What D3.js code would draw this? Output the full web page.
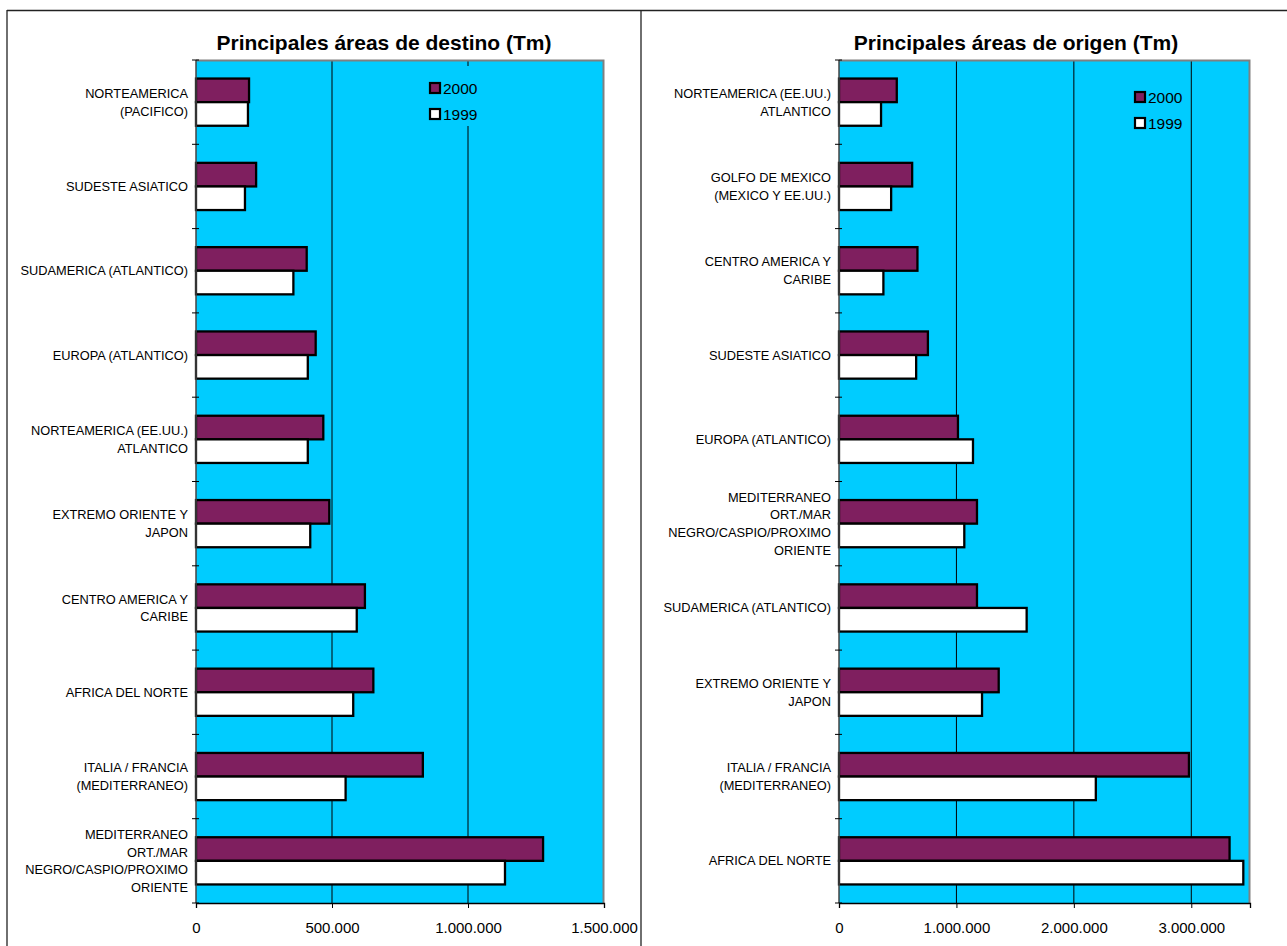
<!DOCTYPE html>
<html>
<head>
<meta charset="utf-8">
<script src="https://cdn.jsdelivr.net/npm/d3@7"></script>
<style>
  html, body { margin: 0; padding: 0; background: #fff; }
  svg { display: block; font-family: "Liberation Sans", Arial, sans-serif; }
</style>
</head>
<body>
<svg id="chart" width="1287" height="946"></svg>
<script>
// ---- data ----
const seriesNames = ["2000", "1999"];

const destinoTitle = "Principales áreas de destino (Tm)";
const destinoCategories = [
  "NORTEAMERICA\n(PACIFICO)",
  "SUDESTE ASIATICO",
  "SUDAMERICA (ATLANTICO)",
  "EUROPA (ATLANTICO)",
  "NORTEAMERICA (EE.UU.)\nATLANTICO",
  "EXTREMO ORIENTE Y\nJAPON",
  "CENTRO AMERICA Y\nCARIBE",
  "AFRICA DEL NORTE",
  "ITALIA / FRANCIA\n(MEDITERRANEO)",
  "MEDITERRANEO\nORT./MAR\nNEGRO/CASPIO/PROXIMO\nORIENTE"
];
const destino2000 = [195000, 221000, 407000, 440000, 468000, 490000, 621000, 652000, 834000, 1276000];
const destino1999 = [191000, 180000, 358000, 411000, 411000, 420000, 591000, 578000, 550000, 1136000];
const destinoTicks = [0, 500000, 1000000, 1500000];
const destinoMax = 1500000;

const origenTitle = "Principales áreas de origen (Tm)";
const origenCategories = [
  "NORTEAMERICA (EE.UU.)\nATLANTICO",
  "GOLFO DE MEXICO\n(MEXICO Y EE.UU.)",
  "CENTRO AMERICA Y\nCARIBE",
  "SUDESTE ASIATICO",
  "EUROPA (ATLANTICO)",
  "MEDITERRANEO\nORT./MAR\nNEGRO/CASPIO/PROXIMO\nORIENTE",
  "SUDAMERICA (ATLANTICO)",
  "EXTREMO ORIENTE Y\nJAPON",
  "ITALIA / FRANCIA\n(MEDITERRANEO)",
  "AFRICA DEL NORTE"
];
const origen2000 = [492000, 623000, 668000, 757000, 1013000, 1175000, 1175000, 1360000, 2980000, 3326000];
const origen1999 = [358000, 444000, 378000, 657000, 1141000, 1067000, 1598000, 1218000, 2187000, 3443000];
const origenTicks = [0, 1000000, 2000000, 3000000];
const origenMax = 3500000;

// ---- style ----
const colors = { "2000": "#7f1f5f", "1999": "#ffffff" };
const plotBg = "#00ccff";

const locale = d3.formatLocale({ decimal: ",", thousands: ".", grouping: [3], currency: ["", ""] });
const fmt = locale.format(",");

const svg = d3.select("#chart");

// panel frame lines
svg.append("line").attr("x1", 7).attr("x2", 1287).attr("y1", 10.5).attr("y2", 10.5)
  .attr("stroke", "#222").attr("stroke-width", 1.3);
svg.append("line").attr("x1", 7).attr("x2", 7).attr("y1", 10).attr("y2", 946)
  .attr("stroke", "#222").attr("stroke-width", 1.3);
svg.append("line").attr("x1", 641).attr("x2", 641).attr("y1", 10).attr("y2", 946)
  .attr("stroke", "#222").attr("stroke-width", 1.3);

function drawChart(cfg) {
  const g = svg.append("g");
  const top = 60, bottom = 903;
  const x = d3.scaleLinear().domain([0, cfg.max]).range([cfg.left, cfg.right]);
  const y = d3.scaleBand().domain(cfg.categories).range([top, bottom])
    .paddingInner(0.44).paddingOuter(0.22);
  const ySub = d3.scaleBand().domain(seriesNames).range([0, y.bandwidth()]);
  const step = y.step();

  // title
  g.append("text").attr("x", cfg.titleX).attr("y", 50)
    .attr("text-anchor", "middle").attr("font-weight", "bold").attr("font-size", 21)
    .attr("fill", "#000").text(cfg.title);

  // plot background
  g.append("rect").attr("x", cfg.left).attr("y", top)
    .attr("width", cfg.right - cfg.left).attr("height", bottom - top)
    .attr("fill", plotBg);

  // gridlines
  g.selectAll(".grid").data(cfg.ticks.filter(t => t > 0 && t < cfg.max)).enter()
    .append("line")
    .attr("x1", d => x(d)).attr("x2", d => x(d))
    .attr("y1", top).attr("y2", bottom)
    .attr("stroke", "#000").attr("stroke-width", 1);

  // plot border (top & right gray)
  g.append("path")
    .attr("d", `M${cfg.left},${top + 0.5}H${cfg.right - 0.5}V${bottom}`)
    .attr("fill", "none").attr("stroke", "#808080").attr("stroke-width", 2);

  // bars
  const rows = cfg.categories.map((c, i) => ({ cat: c, vals: [cfg.v2000[i], cfg.v1999[i]] }));
  const grp = g.selectAll(".cat").data(rows).enter().append("g")
    .attr("transform", d => `translate(0,${y(d.cat)})`);
  grp.selectAll("rect").data(d => d.vals.map((v, k) => ({ s: seriesNames[k], v }))).enter()
    .append("rect")
    .attr("x", x(0))
    .attr("y", d => ySub(d.s))
    .attr("width", d => x(d.v) - x(0))
    .attr("height", ySub.bandwidth())
    .attr("fill", d => colors[d.s])
    .attr("stroke", "#000").attr("stroke-width", 2.3);

  // category axis
  g.append("line").attr("x1", cfg.left).attr("x2", cfg.left).attr("y1", top).attr("y2", bottom)
    .attr("stroke", "#444").attr("stroke-width", 1.5);
  const boundaries = cfg.categories.map(c => y(c) - step * 0.22).concat([bottom]);
  g.selectAll(".ctick").data(boundaries).enter().append("line")
    .attr("x1", cfg.left - 4).attr("x2", cfg.left + 3)
    .attr("y1", d => d).attr("y2", d => d)
    .attr("stroke", "#000").attr("stroke-width", 1);

  // category labels
  rows.forEach(r => {
    const lines = r.cat.split("\n");
    const cy = y(r.cat) + y.bandwidth() / 2;
    const lh = 17.7;
    const t = g.append("text").attr("text-anchor", "end").attr("font-size", 12.8).attr("fill", "#000");
    lines.forEach((ln, k) => {
      t.append("tspan").attr("x", cfg.left - 8)
        .attr("y", cy + (k - (lines.length - 1) / 2) * lh + 4.5)
        .text(ln);
    });
  });

  // value axis
  const ax = g.append("g").attr("transform", `translate(0,${bottom})`)
    .call(d3.axisBottom(x).tickValues(cfg.ticks).tickFormat(fmt).tickSize(5).tickPadding(14.3));
  ax.select(".domain").attr("stroke", "#000").attr("stroke-width", 1.3);
  ax.selectAll(".tick line").attr("stroke", "#000");
  ax.selectAll("text").attr("font-size", 15).attr("fill", "#000")
    .attr("font-family", "'Liberation Sans', Arial, sans-serif");

  // legend
  const lg = g.append("g");
  lg.append("rect").attr("x", cfg.legX - 6).attr("y", cfg.legY - 16)
    .attr("width", 60).attr("height", 60).attr("fill", plotBg);
  seriesNames.forEach((s, k) => {
    const yy = cfg.legY + k * 26;
    lg.append("rect").attr("x", cfg.legX + 1).attr("y", yy + 1)
      .attr("width", 10).attr("height", 10)
      .attr("fill", colors[s]).attr("stroke", "#000").attr("stroke-width", 2.2);
    lg.append("text").attr("x", cfg.legX + 14).attr("y", yy + 11.5)
      .attr("font-size", 15.5).attr("fill", "#000").text(s);
  });
}

drawChart({
  title: destinoTitle, titleX: 384, categories: destinoCategories,
  v2000: destino2000, v1999: destino1999, ticks: destinoTicks, max: destinoMax,
  left: 196, right: 604, legX: 429, legY: 82
});
drawChart({
  title: origenTitle, titleX: 1016, categories: origenCategories,
  v2000: origen2000, v1999: origen1999, ticks: origenTicks, max: origenMax,
  left: 839, right: 1250, legX: 1134, legY: 91
});
</script>
</body>
</html>
